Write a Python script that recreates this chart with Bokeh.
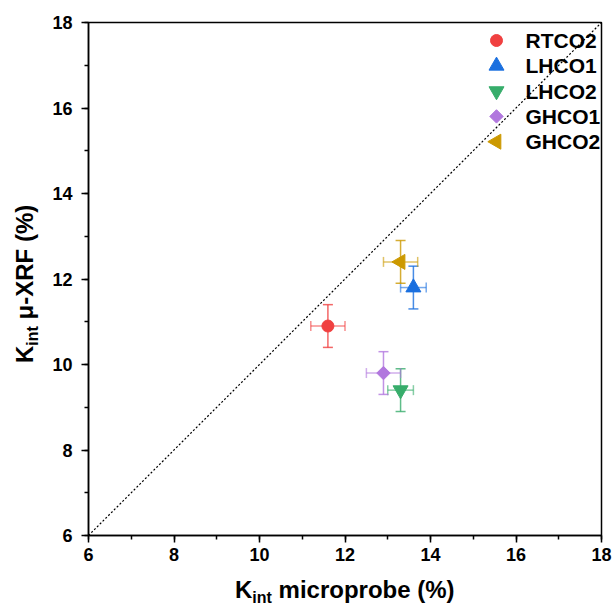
import math
from bokeh.plotting import figure
from bokeh.models import (Range1d, ColumnDataSource, Whisker, TeeHead,
                          SingleIntervalTicker, Div)
from bokeh.core.properties import value
from bokeh.layouts import row, column
from bokeh.embed import file_html
from bokeh.resources import INLINE

# ---- data ----
names = ["RTCO2", "LHCO1", "LHCO2", "GHCO1", "GHCO2"]
x_micro = [11.6, 13.6, 13.3, 12.9, 13.3]
y_xrf = [10.9, 11.8, 9.4, 9.8, 12.4]
x_err = [0.4, 0.3, 0.3, 0.4, 0.4]
y_err = [0.5, 0.5, 0.5, 0.5, 0.5]
diag = [6, 18]

# ---- styles ----
colors = ["#F04040", "#1A6FDF", "#37AD6B", "#B177DE", "#CC9900"]
markers = ["circle", "triangle", "inverted_triangle", "square", "triangle"]
angles = [0, 0, 0, math.pi / 4, math.pi / 2]
sizes = [12, 15, 15, 9.5, 15]

FONT = "Liberation Sans"
PPU = 513 / 12.0  # pixels per data unit (frame is 513 px for 12 units)

p = figure(width=574, height=570, x_range=Range1d(6, 18), y_range=Range1d(6, 18),
           output_backend="svg", toolbar_location=None,
           min_border_left=48, min_border_right=13, min_border_top=22, min_border_bottom=35)
p.grid.visible = False
p.outline_line_color = "black"
p.outline_line_width = 1.5
p.outline_line_alpha = 1.0
p.background_fill_color = "white"
p.border_fill_color = "white"

for ax in (p.xaxis[0], p.yaxis[0]):
    ax.ticker = SingleIntervalTicker(interval=2, num_minor_ticks=2)
    ax.axis_line_width = 1.5
    ax.axis_line_color = "black"
    ax.major_tick_line_width = 1.5
    ax.minor_tick_line_width = 1.5
    ax.major_tick_out = 7
    ax.major_tick_in = 0
    ax.minor_tick_out = 4
    ax.minor_tick_in = 0
    ax.major_label_text_font = FONT
    ax.major_label_text_font_style = "bold"
    ax.major_label_text_font_size = "18px"
    ax.major_label_text_color = "black"
p.xaxis.major_label_standoff = 5
p.yaxis.major_label_standoff = 9

# diagonal 1:1 line
p.line(diag, diag, line_color="black", line_dash="2 2", line_width=1.2)

for i, n in enumerate(names):
    src = ColumnDataSource(dict(x=[x_micro[i]], y=[y_xrf[i]],
                                xl=[x_micro[i] - x_err[i]], xu=[x_micro[i] + x_err[i]],
                                yl=[y_xrf[i] - y_err[i]], yu=[y_xrf[i] + y_err[i]]))
    c = colors[i]
    wv = Whisker(source=src, base="x", lower="yl", upper="yu", dimension="height",
                 line_color=c, line_width=1.5, line_alpha=0.8,
                 upper_head=TeeHead(size=10, line_color=c, line_width=1.5, line_alpha=0.8),
                 lower_head=TeeHead(size=10, line_color=c, line_width=1.5, line_alpha=0.8))
    wh = Whisker(source=src, base="y", lower="xl", upper="xu", dimension="width",
                 line_color=c, line_width=1.5, line_alpha=0.6,
                 upper_head=TeeHead(size=10, line_color=c, line_width=1.5, line_alpha=0.6),
                 lower_head=TeeHead(size=10, line_color=c, line_width=1.5, line_alpha=0.6))
    p.add_layout(wv)
    p.add_layout(wh)
    p.scatter("x", "y", source=src, marker=markers[i], size=sizes[i], angle=angles[i],
              fill_color=c, line_color=c)

# ---- legend (drawn by hand so the rotated markers keep their orientation) ----
LEG_TOP_PX = 18      # first row centre, px below frame top
LEG_STEP_PX = 25.3   # row pitch, px
LEG_MARK_PX = 408    # marker centre, px right of frame left
LEG_TEXT_PX = 437    # text start, px right of frame left
leg_y = [18 - (LEG_TOP_PX + k * LEG_STEP_PX) / PPU for k in range(len(names))]
leg_src = ColumnDataSource(dict(
    mx=[6 + LEG_MARK_PX / PPU] * len(names), tx=[6 + LEG_TEXT_PX / PPU] * len(names),
    y=leg_y, label=names, color=colors, marker=markers, angle=angles, size=sizes))
p.scatter("mx", "y", source=leg_src, marker="marker", size="size", angle="angle",
          fill_color="color", line_color="color")
p.text("tx", "y", text="label", source=leg_src, text_font=value(FONT),
       text_font_style="bold", text_font_size=value("21px"), text_color="black",
       text_baseline="middle", text_align="left")

# ---- axis titles with subscripts, as HTML text ----
SUB = "<span style=\"font-size:16px; position:relative; top:5px;\">int</span>"
BASE = ("font-family:'Liberation Sans'; font-weight:bold; font-size:24px; "
        "line-height:normal; color:black; white-space:nowrap;")

ydiv = Div(width=40, height=570, margin=0,
           text=("<div style=\"display:inline-block; " + BASE +
                 " transform-origin:0 0; transform:translate(11px, 363px) rotate(-90deg);\">"
                 "K" + SUB + " \u03bc-XRF (%)</div>"))
xdiv = Div(width=614, height=37, margin=0,
           text=("<div style=\"" + BASE + " padding-left:235px; padding-top:6px;\">"
                 "K" + SUB + " microprobe (%)</div>"))

layout = column(row(ydiv, p, spacing=0), xdiv, spacing=0)

open("out.html", "w").write(file_html(layout, INLINE))
